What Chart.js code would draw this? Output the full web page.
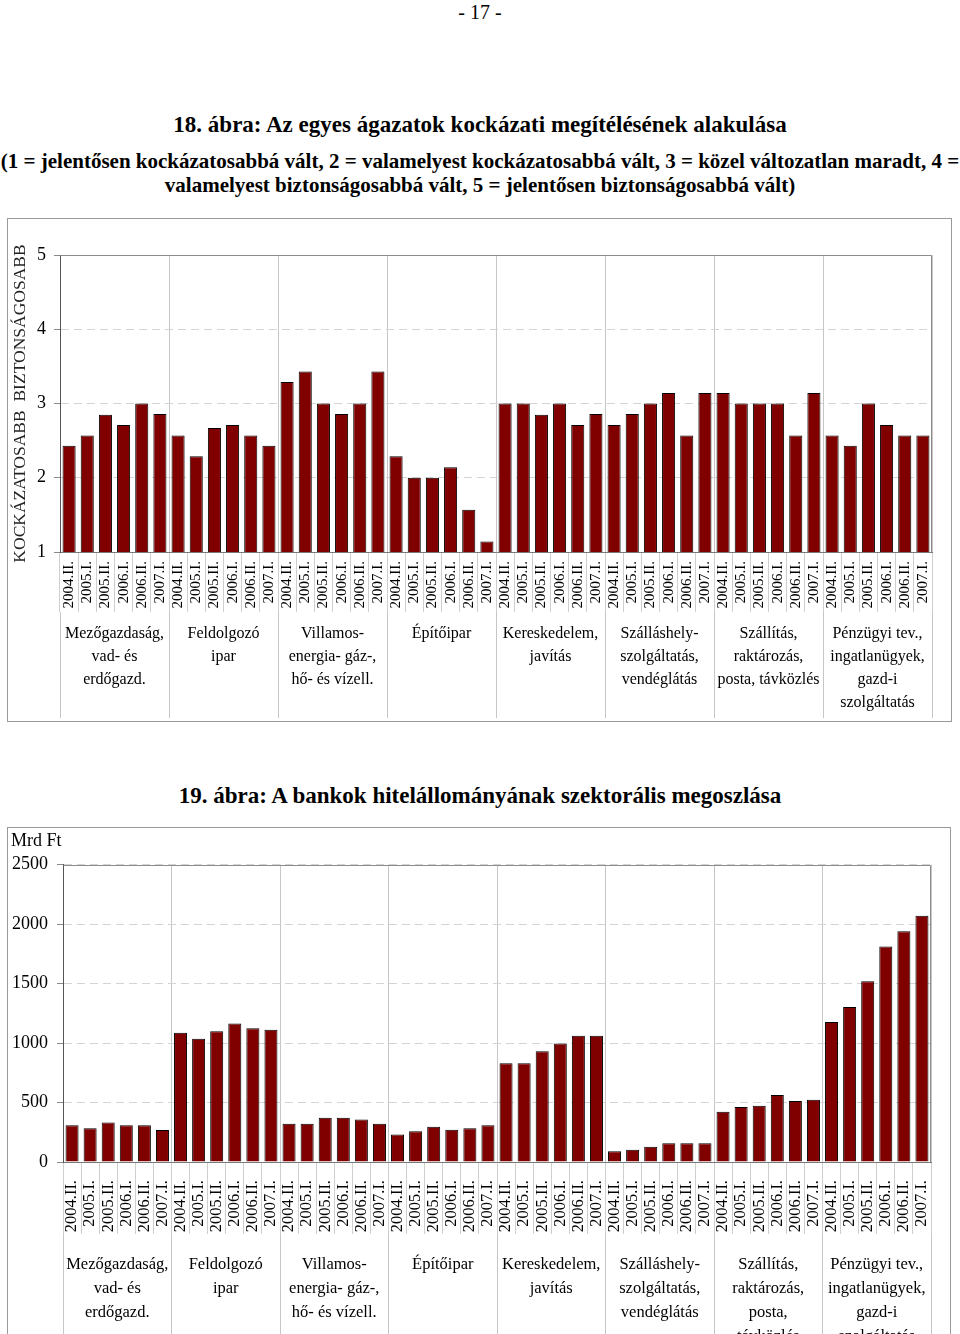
<!DOCTYPE html>
<html lang="hu"><head><meta charset="utf-8">
<script src="https://cdn.jsdelivr.net/npm/chart.js@4.4.1/dist/chart.umd.min.js"></script>
<style>
html,body{margin:0;padding:0;overflow:hidden;background:#fff;}
body{position:relative;width:960px;height:1334px;font-family:"Liberation Serif","Times New Roman",serif;color:#000;}
.t{position:absolute;left:0;width:960px;text-align:center;white-space:nowrap;}
.b{font-weight:bold;}
.box{position:absolute;border:1px solid #9a9a9a;background:#fff;}
.box canvas{display:block;}
</style></head><body>
<div class="t" style="top:0px;font-size:20px;line-height:24px;">- 17 -</div>
<div class="t b" style="top:111px;font-size:23px;line-height:28px;">18. ábra: Az egyes ágazatok kockázati megítélésének alakulása</div>
<div class="t b" style="top:150px;font-size:21px;line-height:23px;">(1 = jelentősen kockázatosabbá vált, 2 = valamelyest kockázatosabbá vált, 3 = közel változatlan maradt, 4 =</div>
<div class="t b" style="top:174px;font-size:21px;line-height:23px;">valamelyest biztonságosabbá vált, 5 = jelentősen biztonságosabbá vált)</div>
<div class="box" style="left:7px;top:218px;width:943px;height:502px;"><canvas id="c1" width="943" height="502"></canvas></div>
<div class="t b" style="top:782px;font-size:23px;line-height:28px;">19. ábra: A bankok hitelállományának szektorális megoszlása</div>
<div class="box" style="left:7px;top:827px;width:942px;height:540px;"><canvas id="c2" width="942" height="540"></canvas></div>
<script>
// ---- data ----
const periods = ['2004.II.', '2005.I.', '2005.II.', '2006.I.', '2006.II.', '2007.I.'];

const sectorLabels1 = [
  ['Mezőgazdaság,', 'vad- és', 'erdőgazd.'],
  ['Feldolgozó', 'ipar'],
  ['Villamos-', 'energia- gáz-,', 'hő- és vízell.'],
  ['Építőipar'],
  ['Kereskedelem,', 'javítás'],
  ['Szálláshely-', 'szolgáltatás,', 'vendéglátás'],
  ['Szállítás,', 'raktározás,', 'posta, távközlés'],
  ['Pénzügyi tev.,', 'ingatlanügyek,', 'gazd-i', 'szolgáltatás']
];
const sectorLabels2 = [
  ['Mezőgazdaság,', 'vad- és', 'erdőgazd.'],
  ['Feldolgozó', 'ipar'],
  ['Villamos-', 'energia- gáz-,', 'hő- és vízell.'],
  ['Építőipar'],
  ['Kereskedelem,', 'javítás'],
  ['Szálláshely-', 'szolgáltatás,', 'vendéglátás'],
  ['Szállítás,', 'raktározás,', 'posta,', 'távközlés'],
  ['Pénzügyi tev.,', 'ingatlanügyek,', 'gazd-i', 'szolgáltatás']
];

// risk assessment (1..5), six periods per sector
const riskScores = [
  2.43, 2.57, 2.85, 2.71, 3.00, 2.86,
  2.57, 2.29, 2.67, 2.71, 2.57, 2.43,
  3.29, 3.43, 3.00, 2.86, 3.00, 3.43,
  2.29, 2.00, 2.00, 2.14, 1.57, 1.14,
  3.00, 3.00, 2.85, 3.00, 2.71, 2.86,
  2.71, 2.86, 3.00, 3.14, 2.57, 3.14,
  3.14, 3.00, 3.00, 3.00, 2.57, 3.14,
  2.57, 2.43, 3.00, 2.71, 2.57, 2.57
];

// bank loan stock, Mrd Ft
const loanStock = [
  308, 283, 333, 308, 308, 269,
  1086, 1036, 1100, 1165, 1125, 1111,
  322, 322, 372, 372, 358, 322,
  232, 258, 297, 272, 283, 308,
  831, 831, 932, 997, 1061, 1061,
  90, 104, 129, 157, 157, 157,
  423, 462, 473, 563, 512, 524,
  1176, 1302, 1520, 1811, 1940, 2069
];

const yTicks1 = [1, 2, 3, 4, 5];
const yTicks2 = [0, 500, 1000, 1500, 2000, 2500];

// ---- chart setup ----
const FAMILY = "'Liberation Serif', 'Times New Roman', serif";
Chart.defaults.font.family = FAMILY;
Chart.defaults.color = '#000';

const frame = {
  id: 'frame',
  afterDatasetsDraw(chart) {
    const a = chart.chartArea, ctx = chart.ctx;
    const l = Math.round(a.left) + 0.5, r = Math.round(a.right) - 0.5;
    const t = Math.round(a.top) + 0.5, b = Math.round(a.bottom);
    ctx.save();
    ctx.strokeStyle = '#8c8c8c';
    ctx.lineWidth = 1;
    ctx.beginPath();
    ctx.moveTo(l, t); ctx.lineTo(r, t); ctx.lineTo(r, b);
    ctx.stroke();
    ctx.restore();
  }
};

function makeChart(id, cfg) {
  const labels = cfg.sectors.flatMap(() => periods);
  return new Chart(document.getElementById(id), {
    type: 'bar',
    data: {
      labels: labels,
      datasets: [{
        data: cfg.values,
        backgroundColor: '#800000',
        borderColor: '#000000',
        borderWidth: 1,
        barPercentage: 0.72,
        categoryPercentage: 1
      }]
    },
    options: {
      responsive: false,
      animation: false,
      devicePixelRatio: 1,
      layout: { padding: cfg.padding },
      plugins: {
        legend: { display: false },
        tooltip: { enabled: false },
        title: cfg.title
      },
      scales: {
        x: {
          type: 'category', position: 'bottom', weight: 0, offset: true,
          grid: { display: true, offset: true, drawOnChartArea: false, drawTicks: true, tickLength: cfg.xH, color: '#cfcfcf', lineWidth: 1 },
          border: { display: true, color: '#7a7a7a', width: 1 },
          ticks: { autoSkip: false, minRotation: 90, maxRotation: 90, padding: cfg.xGap - cfg.xH, color: '#000', font: { size: cfg.tickSize } },
          afterFit(s) { s.height = cfg.xH; }
        },
        x2: {
          type: 'category', labels: cfg.sectors, position: 'bottom', weight: 1, offset: true,
          grid: { display: true, offset: true, drawOnChartArea: true, drawTicks: true, tickLength: cfg.x2H, color: '#c6c6c6', lineWidth: 1 },
          border: { display: false },
          ticks: { autoSkip: false, minRotation: 0, maxRotation: 0, padding: cfg.x2Gap - cfg.x2H, color: '#000', font: { size: cfg.catSize, lineHeight: cfg.catLH } },
          afterFit(s) { s.height = cfg.x2H; }
        },
        y: {
          min: cfg.yTicks[0], max: cfg.yTicks[cfg.yTicks.length - 1],
          afterBuildTicks(s) { s.ticks = cfg.yTicks.map(v => ({ value: v })); },
          ticks: { padding: cfg.yPad - 6, color: '#000', font: { size: 18 }, callback: v => String(v) },
          grid: { color: '#d4d4d4', lineWidth: 1, drawTicks: true, tickLength: 6, tickColor: '#8a8a8a', tickBorderDash: [] },
          border: { display: true, color: '#555', width: 1, dash: [8, 5] },
          title: cfg.yTitle,
          afterFit(s) { s.width = cfg.yW; }
        }
      }
    },
    plugins: [frame]
  });
}

makeChart('c1', {
  sectors: sectorLabels1,
  values: riskScores,
  yTicks: yTicks1,
  padding: { top: 36, right: 19, bottom: 3, left: 0 },
  title: { display: false },
  xH: 60, xGap: 9, tickSize: 15,
  x2H: 106, x2Gap: 10, catSize: 16, catLH: 23 / 16,
  yPad: 14, yW: 52,
  yTitle: { display: true, text: 'KOCKÁZATOSABB  BIZTONSÁGOSABB', color: '#222', font: { size: 17.5 }, padding: { top: 2, bottom: 0 } }
});

makeChart('c2', {
  sectors: sectorLabels2,
  values: loanStock,
  yTicks: yTicks2,
  padding: { top: 0, right: 19, bottom: 4, left: 3 },
  title: { display: true, text: 'Mrd Ft', align: 'start', color: '#000', font: { size: 18, weight: 'normal' }, padding: { top: 2, bottom: 13 } },
  xH: 72, xGap: 18, tickSize: 16.5,
  x2H: 130, x2Gap: 19, catSize: 16.5, catLH: 24 / 16.5,
  yPad: 15, yW: 52,
  yTitle: { display: false }
});
</script>
</body></html>
